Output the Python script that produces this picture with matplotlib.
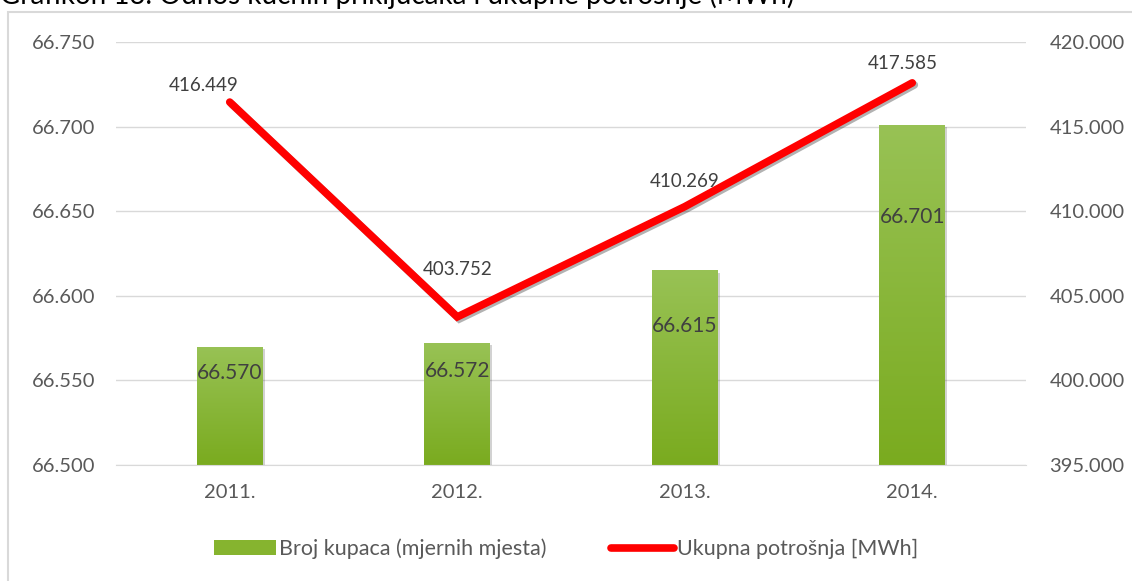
import matplotlib.pyplot as plt
from matplotlib.patches import Rectangle
from matplotlib.lines import Line2D
from matplotlib.colors import LinearSegmentedColormap
import matplotlib.patheffects as pe
import numpy as np

plt.rcParams['font.family'] = ['Lato', 'DejaVu Sans']

godine = ['2011.', '2012.', '2013.', '2014.']
broj_kupaca = [66570, 66572, 66615, 66701]
potrosnja = [416449, 403752, 410269, 417585]

lijeve_oznake = [66500, 66550, 66600, 66650, 66700, 66750]
desne_oznake = [395000, 400000, 405000, 410000, 415000, 420000]


def fmt(v):
    # tocka kao separator tisuca
    return f'{v:,}'.replace(',', '.')


siva = '#595959'
fig = plt.figure(figsize=(11.32, 5.81), dpi=100)
ax = fig.add_axes([116 / 1132, 1 - 465 / 581, 910 / 1132, 423 / 581])
ax2 = ax.twinx()

x = np.arange(len(godine))
sirina = 0.29

# stupci s gradijentom
grad = np.linspace(0, 1, 256).reshape(-1, 1)
zelena = LinearSegmentedColormap.from_list('z', ['#7aab1f', '#98c255'])
bars = ax.bar(x, broj_kupaca, width=sirina, bottom=0, color='none', zorder=2)
for b in bars:
    b.set_path_effects([pe.SimplePatchShadow(offset=(1.5, -1.5), alpha=0.25), pe.Normal()])
    x0, w, h = b.get_x(), b.get_width(), b.get_height()
    im = ax.imshow(grad, cmap=zelena, aspect='auto', origin='lower',
                   extent=[x0, x0 + w, lijeve_oznake[0], h], zorder=2)
    im.set_clip_path(b)

ax.set_xlim(-0.5, len(godine) - 0.5)
ax.set_ylim(lijeve_oznake[0], lijeve_oznake[-1])
ax.set_yticks(lijeve_oznake)
ax.set_yticklabels([fmt(v) for v in lijeve_oznake])
ax.set_xticks(x)
ax.set_xticklabels(godine)
ax.grid(axis='y', color='#d9d9d9', linewidth=1, zorder=0)
ax.set_axisbelow(True)
for s in ['top', 'left', 'right']:
    ax.spines[s].set_visible(False)
ax.spines['bottom'].set_color('#d9d9d9')
ax.tick_params(length=0, labelsize=14.5, colors=siva, pad=15)
ax.tick_params(axis='x', pad=14)

# oznake vrijednosti stupaca (pomak ispod vrha u tockama)
pomak_stupci = [-19, -20, -40, -66]
for xi, v, d in zip(x, broj_kupaca, pomak_stupci):
    ax.annotate(fmt(v), (xi, v), xytext=(0, d), textcoords='offset points',
                ha='center', va='center', fontsize=15, color='#404040', zorder=5)

# linija ukupne potrosnje
ax2.plot(x, potrosnja, color='#ff0000', linewidth=5.5, solid_capstyle='round',
         solid_joinstyle='miter', zorder=4,
         path_effects=[pe.SimpleLineShadow(offset=(1.5, -1.5), alpha=0.3), pe.Normal()])
ax2.set_ylim(desne_oznake[0], desne_oznake[-1])
ax2.set_yticks(desne_oznake)
ax2.set_yticklabels([fmt(v) for v in desne_oznake])
for s in ['top', 'left', 'right', 'bottom']:
    ax2.spines[s].set_visible(False)
ax2.tick_params(length=0, labelsize=14.5, colors=siva, pad=17)

pomak_linija = [(-19, 12), (0, 34), (0, 18), (-7, 14)]
for xi, v, (dx, dy) in zip(x, potrosnja, pomak_linija):
    ax2.annotate(fmt(v), (xi, v), xytext=(dx, dy), textcoords='offset points',
                 ha='center', va='center', fontsize=13.5, color='#404040', zorder=5)

# legenda
h1 = Rectangle((0, 0), 1, 1, facecolor='#86b42f')
h2 = Line2D([0], [0], color='#ff0000', linewidth=5.5, solid_capstyle='round')
fig.legend([h1, h2], ['Broj kupaca (mjernih mjesta)', 'Ukupna potrošnja [MWh]'],
           loc='center', bbox_to_anchor=(0.5, 1 - 549 / 581), ncol=2, frameon=False,
           fontsize=15.5, labelcolor=siva, handlelength=2.9, handletextpad=0.15,
           columnspacing=3.0)

# okvir grafikona
fig.add_artist(Rectangle((8 / 1132, -0.01), 1.0, 1 - 12 / 581 + 0.01,
                         transform=fig.transFigure, fill=False,
                         edgecolor='#d9d9d9', linewidth=1.5))

# naslov (gornji dio izvan slike)
fig.text(0.0, 1 - 4 / 581, 'Grafikon 13. Odnos kućnih priključaka i ukupne potrošnje (MWh)',
         fontsize=20, color='black', va='baseline', ha='left')

fig.savefig('out.png', dpi=100)
